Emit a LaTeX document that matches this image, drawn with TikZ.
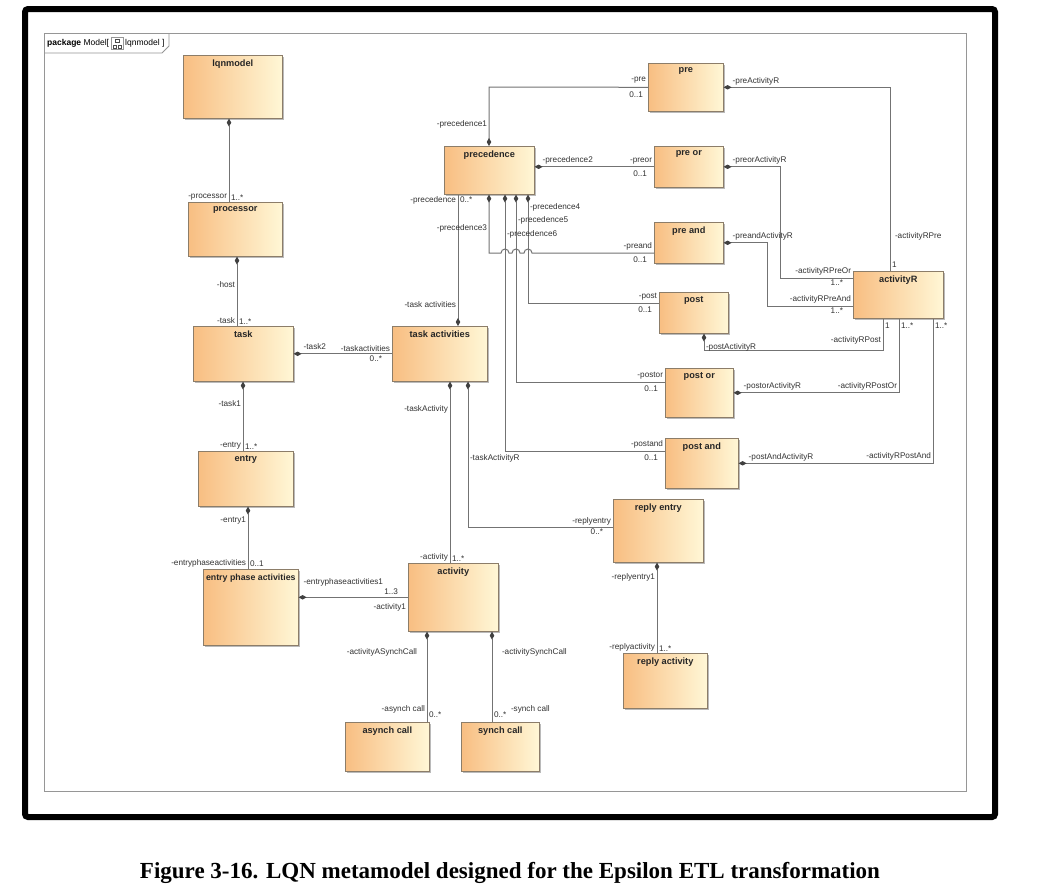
\documentclass[tikz,border=0pt]{standalone}
\usepackage{fontspec}
\setmainfont{Liberation Sans}
\newfontfamily\captionserif{Liberation Serif}
\usepackage{tikz}
\usetikzlibrary{positioning, arrows.meta, shadows}
\definecolor{clsleft}{RGB}{248,190,130}
\definecolor{clsright}{RGB}{255,247,214}
\definecolor{clsline}{RGB}{140,125,105}
\definecolor{connline}{RGB}{115,115,115}
\definecolor{framegray}{RGB}{150,150,150}

\begin{document}
\begin{tikzpicture}[x=1pt, y=-1pt,
    cls/.style={draw=clsline, line width=0.6pt, left color=clsleft, right color=clsright,
                anchor=north west, inner sep=0pt,
                drop shadow={shadow xshift=1.5pt, shadow yshift=-1.5pt, fill=black!45, opacity=0.6}},
    ttl/.style={font=\bfseries\fontsize{9.2}{11}\selectfont, anchor=north, yshift=-3.5pt,
                inner sep=1pt, text=black!85},
    comp/.style={draw=connline, line width=1pt, {Diamond[length=8pt, width=4.5pt, color=black!75]}-},
    lab/.style={font=\fontsize{8.2}{9}\selectfont, inner sep=1.5pt, text=black!80},
    pkg/.style={font=\fontsize{8.5}{9}\selectfont, inner sep=1pt, anchor=west}]
  \useasboundingbox (0,0) rectangle (1040,887);
  \fill[white] (0,0) rectangle (1040,887);

  % frames
  \draw[line width=6pt, rounded corners=3pt] (25,9) rectangle (995,817);
  \draw[framegray, line width=0.8pt] (44,33) rectangle (966,791);
  \draw[framegray, line width=0.8pt] (44,53) -- (162,53) -- (169,46) -- (169,33);
  \node[pkg] (pkgkind) at (46,43) {\textbf{package}\ Model[};
  \draw[framegray, line width=0.5pt] (111,37) rectangle (123,49);
  \draw[black!70, line width=0.4pt] (115,39) rectangle (119,42) (113,45) rectangle (116,48) (118,45) rectangle (121,48);
  \node[pkg] (pkgname) at (124,43) {lqnmodel ]};

  % classes
  \node[cls, minimum width=99pt, minimum height=63pt, label={[ttl]north:lqnmodel}] (lqn) at (183,55) {};
  \node[cls, minimum width=94pt, minimum height=54pt, label={[ttl]north:processor}] (proc) at (188,202) {};
  \node[cls, minimum width=100pt, minimum height=55pt, label={[ttl]north:task}] (task) at (193,326) {};
  \node[cls, minimum width=95pt, minimum height=55pt, label={[ttl]north:task activities}] (ta) at (392,326) {};
  \node[cls, minimum width=95pt, minimum height=55pt, label={[ttl]north:entry}] (entry) at (198,451) {};
  \node[cls, minimum width=95pt, minimum height=76pt, label={[ttl, font=\bfseries\fontsize{8.8}{11}\selectfont]north:entry phase activities}] (epa) at (203,569) {};
  \node[cls, minimum width=90pt, minimum height=68pt, label={[ttl]north:activity}] (act) at (408,563) {};
  \node[cls, minimum width=84pt, minimum height=49pt, label={[ttl]north:asynch call}] (async) at (345,722) {};
  \node[cls, minimum width=78pt, minimum height=49pt, label={[ttl]north:synch call}] (sync) at (461,722) {};
  \node[cls, minimum width=90pt, minimum height=63pt, label={[ttl]north:reply entry}] (rentry) at (613,499) {};
  \node[cls, minimum width=84pt, minimum height=55pt, label={[ttl]north:reply activity}] (ract) at (623,653) {};
  \node[cls, minimum width=90pt, minimum height=48pt, label={[ttl]north:precedence}] (prec) at (444,146) {};
  \node[cls, minimum width=75pt, minimum height=48pt, label={[ttl]north:pre}] (pre) at (648,63) {};
  \node[cls, minimum width=69pt, minimum height=41pt, label={[ttl]north:pre or}] (preor) at (654,146) {};
  \node[cls, minimum width=69pt, minimum height=41pt, label={[ttl]north:pre and}] (preand) at (654,222) {};
  \node[cls, minimum width=90pt, minimum height=47pt, label={[ttl]north:activityR}] (actR) at (853,271) {};
  \node[cls, minimum width=69pt, minimum height=41pt, label={[ttl]north:post}] (post) at (659,292) {};
  \node[cls, minimum width=68pt, minimum height=49pt, label={[ttl]north:post or}] (postor) at (665,368) {};
  \node[cls, minimum width=73pt, minimum height=50pt, label={[ttl]north:post and}] (postand) at (665,438) {};

  % left column
  \draw[comp] (229,0 |- lqn.south) -- (229,0 |- proc.north)
    node[lab, anchor=south east] {-processor} node[lab, anchor=south west] {1..*};
  \draw[comp] (237,0 |- proc.south) -- node[lab, pos=0.41, anchor=east] {-host} (237,0 |- task.north)
    node[lab, anchor=south east] {-task} node[lab, anchor=south west] {1..*};
  \draw[comp] (243,0 |- task.south) -- node[lab, pos=0.31, anchor=east] {-task1} (243,0 |- entry.north)
    node[lab, anchor=south east] {-entry} node[lab, anchor=south west] {1..*};
  \draw[comp] (248,0 |- entry.south) -- node[lab, pos=0.22, anchor=east] {-entry1} (248,0 |- epa.north)
    node[lab, anchor=south east] {-entryphaseactivities} node[lab, anchor=south west] {0..1};
  \draw[comp] (task.east) -- (ta.west)
    node[lab, anchor=south east] {-taskactivities} node[lab, anchor=north east, xshift=-8pt] {0..*};
  \node[lab, anchor=south west] (task2lab) at (302,351) {-task2};
  \draw[comp] (epa.east |- act.west) -- (act.west)
    node[lab, anchor=south east, xshift=-8pt, yshift=1pt] {1..3} node[lab, anchor=north east, yshift=-4pt] {-activity1};
  \node[lab, anchor=south west] (epa1lab) at (302,588) {-entryphaseactivities1};

  % task activities
  \draw[comp] (458,0 |- ta.north) -- node[lab, pos=0.16, anchor=east] {-task activities} (458,0 |- prec.south)
    node[lab, anchor=north east] {-precedence} node[lab, anchor=north west] {0..*};
  \draw[comp] (450,0 |- ta.south) -- node[lab, pos=0.154, anchor=east] {-taskActivity} (450,0 |- act.north)
    node[lab, anchor=south east] {-activity} node[lab, anchor=south west] {1..*};
  \draw[comp] (468,0 |- ta.south) -- node[lab, pos=0.53, anchor=west] {-taskActivityR} (468,527) -- (rentry.west |- 0,527)
    node[lab, anchor=south east] {-replyentry} node[lab, anchor=north east, xshift=-8pt] {0..*};
  \draw[comp] (657,0 |- rentry.south) -- node[lab, pos=0.165, anchor=east] {-replyentry1} (657,0 |- ract.north)
    node[lab, anchor=south east] {-replyactivity} node[lab, anchor=south west] {1..*};

  % activity calls
  \draw[comp] (427,0 |- act.south) -- node[lab, pos=0.23, anchor=east, xshift=-8pt] {-activityASynchCall} (427,0 |- async.north)
    node[lab, anchor=south east, yshift=7pt] {-asynch call} node[lab, anchor=south west, yshift=2pt] {0..*};
  \draw[comp] (492,0 |- act.south) -- node[lab, pos=0.23, anchor=west, xshift=8pt] {-activitySynchCall} (492,0 |- sync.north)
    node[lab, anchor=south west, yshift=2pt] {0..*} node[lab, anchor=south west, xshift=17pt, yshift=7pt] {-synch call};

  % precedence
  \draw[comp] (489,0 |- prec.north) -- node[lab, pos=0.36, anchor=east] {-precedence1} (489,87) -- (pre.west)
    node[lab, anchor=south east, yshift=2pt] {-pre} node[lab, anchor=north east, xshift=-3pt, yshift=-2pt] {0..1};
  \draw[comp] (prec.east |- preor.west) -- (preor.west)
    node[lab, anchor=south east, yshift=1pt] {-preor} node[lab, anchor=north east, xshift=-5pt, yshift=-2pt] {0..1};
  \node[lab, anchor=south west] (prec2lab) at (541,166) {-precedence2};
  \draw[comp] (489,0 |- prec.south) -- node[lab, pos=0.58, anchor=east] {-precedence3} (489,253) -- (501,253)
    arc[start angle=180, end angle=0, radius=4pt] -- (512,253)
    arc[start angle=180, end angle=0, radius=4pt] -- (524,253)
    arc[start angle=180, end angle=0, radius=4pt] -- (preand.west |- 0,253)
    node[lab, anchor=south east, yshift=1pt] {-preand} node[lab, anchor=north east, xshift=-5pt, yshift=-2pt] {0..1};
  \draw[comp] (528,0 |- prec.south) -- node[lab, pos=0.12, anchor=west] {-precedence4} (528,303) -- (post.west |- 0,303)
    node[lab, anchor=south east, yshift=1pt] {-post} node[lab, anchor=north east, xshift=-5pt, yshift=-2pt] {0..1};
  \draw[comp] (516,0 |- prec.south) -- node[lab, pos=0.138, anchor=west] {-precedence5} (516,382) -- (postor.west |- 0,382)
    node[lab, anchor=south east, yshift=1pt] {-postor} node[lab, anchor=north east, xshift=-5pt, yshift=-2pt] {0..1};
  \draw[comp] (505,0 |- prec.south) -- node[lab, pos=0.156, anchor=west] {-precedence6} (505,451) -- (postand.west |- 0,451)
    node[lab, anchor=south east, yshift=1pt] {-postand} node[lab, anchor=north east, xshift=-5pt, yshift=-2pt] {0..1};

  % activityR
  \draw[comp] (pre.east) -- (890,0 |- pre.east) -- node[lab, pos=0.81, anchor=west, xshift=3pt] {-activityRPre} (890,0 |- actR.north)
    node[lab, anchor=south west, yshift=2pt] {1};
  \node[lab, anchor=south west] (preActlab) at (731,87) {-preActivityR};
  \draw[comp] (preor.east) -- (780,0 |- preor.east) -- (780,278) -- (actR.west |- 0,278)
    node[lab, anchor=south east, yshift=1pt] {-activityRPreOr} node[lab, anchor=north east, xshift=-8pt] {1..*};
  \node[lab, anchor=south west] (preorActlab) at (731,166) {-preorActivityR};
  \draw[comp] (preand.east) -- (767,0 |- preand.east) -- (767,306) -- (actR.west |- 0,306)
    node[lab, anchor=south east, yshift=1pt] {-activityRPreAnd} node[lab, anchor=north east, xshift=-8pt] {1..*};
  \node[lab, anchor=south west] (preandActlab) at (731,242) {-preandActivityR};
  \draw[comp] (704,0 |- post.south) -- (704,350) -- node[lab, pos=0, anchor=west, yshift=3pt] {-postActivityR} (883,350)
    -- node[lab, pos=0.31, anchor=east] {-activityRPost} (883,0 |- actR.south)
    node[lab, anchor=north west, yshift=-2pt] {1};
  \draw[comp] (postor.east) -- (899,0 |- postor.east) node[lab, anchor=south east, yshift=1pt] {-activityRPostOr}
    -- (899,0 |- actR.south) node[lab, anchor=north west, yshift=-2pt] {1..*};
  \node[lab, anchor=south west] (postorActlab) at (742,392) {-postorActivityR};
  \draw[comp] (postand.east) -- (933,0 |- postand.east) node[lab, anchor=south east, yshift=1pt] {-activityRPostAnd}
    -- (933,0 |- actR.south) node[lab, anchor=north west, yshift=-2pt] {1..*};
  \node[lab, anchor=south west] (postandActlab) at (747,463) {-postAndActivityR};

  % caption
  \node[font=\captionserif\bfseries\fontsize{23}{26}\selectfont, inner sep=0pt] (caption) at (510,873)
    {Figure 3-16. LQN metamodel designed for the Epsilon ETL transformation};
\end{tikzpicture}
\end{document}
